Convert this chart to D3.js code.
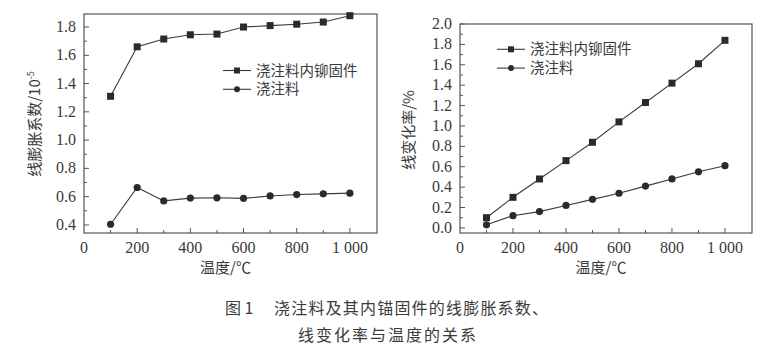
<!DOCTYPE html>
<html><head><meta charset="utf-8">
<script src="https://cdn.jsdelivr.net/npm/d3@7"></script>
<style>
body{margin:0;background:#fff;}
svg{display:block;}
</style></head>
<body>
<svg id="c" width="780" height="361"></svg>
<script>
const temps = [100,200,300,400,500,600,700,800,900,1000];
const coefAnchor = [1.31,1.66,1.715,1.745,1.75,1.80,1.81,1.82,1.835,1.88];
const coefCast = [0.405,0.665,0.57,0.59,0.592,0.588,0.605,0.615,0.62,0.625];
const rateAnchor = [0.10,0.30,0.48,0.66,0.84,1.04,1.23,1.42,1.61,1.84];
const rateCast = [0.03,0.12,0.16,0.22,0.28,0.34,0.41,0.48,0.55,0.61];
const seriesNames = ["浇注料内铆固件","浇注料"];
const xTicks = [0,200,400,600,800,1000];
const xTickLabels = ["0","200","400","600","800","1 000"];
const leftYTicks = [0.4,0.6,0.8,1.0,1.2,1.4,1.6,1.8];
const rightYTicks = [0.0,0.2,0.4,0.6,0.8,1.0,1.2,1.4,1.6,1.8,2.0];
const captionLabel = "图 1";
const caption1 = "浇注料及其内锚固件的线膨胀系数、";
const caption2 = "线变化率与温度的关系";

const svg = d3.select("#c");
const ink = "#3a3a3a";
const SERIF = "Liberation Serif";
const CJK = "Noto Sans CJK SC";

function panel(o){
  const g = svg.append("g");
  const x = d3.scaleLinear().domain([0,1102]).range([o.x0,o.x1]);
  const y = d3.scaleLinear().domain(o.yDom).range([o.y1,o.y0]);
  g.append("rect").attr("x",o.x0).attr("y",o.y0).attr("width",o.x1-o.x0).attr("height",o.y1-o.y0)
    .attr("fill","none").attr("stroke","#555").attr("stroke-width",1.2);
  const xMinor = d3.range(100,1100,100);
  g.selectAll(".xt").data(xMinor).enter().append("line")
    .attr("x1",d=>x(d)).attr("x2",d=>x(d)).attr("y1",o.y1).attr("y2",d=>o.y1-(d%200===0?5:3))
    .attr("stroke","#555");
  g.selectAll(".xl").data(xTicks).enter().append("text")
    .style("font-family",SERIF)
    .attr("x",d=>x(d)).attr("y",o.y1+20).attr("text-anchor","middle")
    .attr("font-size",16).attr("fill",ink)
    .text((d,i)=>xTickLabels[i]);
  const step = 0.1;
  const yMinor = d3.range(Math.ceil(o.yDom[0]/step-1e-6), Math.floor(o.yDom[1]/step+1e-6)+1).map(k=>+(k*step).toFixed(2));
  g.selectAll(".yt").data(yMinor).enter().append("line")
    .attr("x1",o.x0).attr("x2",d=>o.x0+(Math.round(d*10)%2===0?5:3)).attr("y1",d=>y(d)).attr("y2",d=>y(d))
    .attr("stroke","#555");
  g.selectAll(".yl").data(o.yTicks).enter().append("text")
    .style("font-family",SERIF)
    .attr("x",o.x0-8).attr("y",d=>y(d)+5).attr("text-anchor","end")
    .attr("font-size",16).attr("fill",ink)
    .text(d=>d.toFixed(1));
  g.append("text").style("font-family",CJK).attr("x",(o.x0+o.x1)/2-5).attr("y",273).attr("text-anchor","middle")
    .attr("font-size",15).attr("fill",ink).text("温度/℃");
  const yt = g.append("text").style("font-family",CJK).attr("transform",`translate(${o.ytx},${o.yty}) rotate(-90)`)
    .attr("text-anchor","middle").attr("font-size",15).attr("fill",ink);
  yt.append("tspan").text(o.ytitle);
  if(o.sup){ yt.append("tspan").attr("font-size",9).attr("dy",-6).text(o.sup); }
  const line = d3.line().x((d,i)=>x(temps[i])).y(d=>y(d));
  [o.s1,o.s2].forEach((s,k)=>{
    g.append("path").datum(s).attr("d",line).attr("fill","none").attr("stroke",ink).attr("stroke-width",1.1);
    if(k===0){
      g.selectAll(null).data(s).enter().append("rect")
        .attr("x",(d,i)=>x(temps[i])-3.5).attr("y",d=>y(d)-3.5).attr("width",7).attr("height",7).attr("fill","#2a2a2a");
    } else {
      g.selectAll(null).data(s).enter().append("circle")
        .attr("cx",(d,i)=>x(temps[i])).attr("cy",d=>y(d)).attr("r",3.6).attr("fill","#2a2a2a");
    }
  });
  seriesNames.forEach((nm,k)=>{
    const ly = o.ly + k*18.8;
    g.append("line").attr("x1",o.lx).attr("x2",o.lx+28).attr("y1",ly).attr("y2",ly).attr("stroke",ink).attr("stroke-width",1.1);
    if(k===0) g.append("rect").attr("x",o.lx+14-3).attr("y",ly-3).attr("width",6).attr("height",6).attr("fill","#2a2a2a");
    else g.append("circle").attr("cx",o.lx+14).attr("cy",ly).attr("r",3).attr("fill","#2a2a2a");
    g.append("text").style("font-family",CJK).attr("font-size",14.5).attr("fill",ink)
      .attr("x",o.lx+33).attr("y",ly+5).text(nm);
  });
}

panel({x0:84,x1:377,y0:14,y1:233,yDom:[0.343,1.892],yTicks:leftYTicks,s1:coefAnchor,s2:coefCast,
  ytitle:"线膨胀系数/10",sup:"-5",ytx:40,yty:124,lx:223,ly:70.5});
panel({x0:460,x1:752,y0:24,y1:233,yDom:[-0.05,2.0],yTicks:rightYTicks,s1:rateAnchor,s2:rateCast,
  ytitle:"线变化率/%",ytx:414,yty:130,lx:497,ly:49.3});

svg.append("text").style("font-family",CJK).attr("x",225).attr("y",314).attr("font-size",16)
  .attr("fill",ink).text(captionLabel);
svg.append("text").style("font-family",CJK).attr("x",274).attr("y",314).attr("font-size",16)
  .attr("letter-spacing",1.2).attr("fill",ink).text(caption1);
svg.append("text").style("font-family",CJK).attr("x",298).attr("y",341).attr("font-size",16)
  .attr("letter-spacing",2).attr("fill",ink).text(caption2);
</script>
</body></html>
